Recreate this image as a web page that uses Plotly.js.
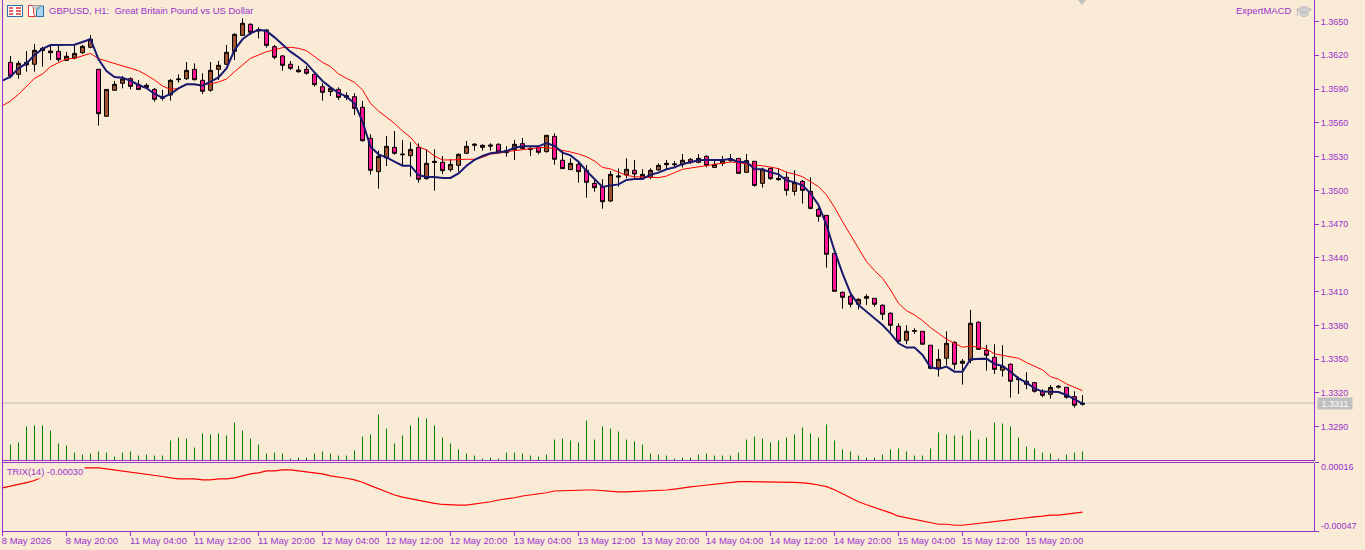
<!DOCTYPE html>
<html><head><meta charset="utf-8">
<script src="https://cdn.plot.ly/plotly-3.0.1.min.js"></script>
<style>html,body{margin:0;padding:0;background:#FAEBD7}</style></head>
<body><div id="chart" style="width:1365px;height:550px"></div>
<script>
const opens=[1.36137,1.36031,1.36114,1.36120,1.36241,1.36238,1.36235,1.36155,1.36176,1.36223,1.36271,1.36075,1.35658,1.35889,1.35951,1.35992,1.35939,1.35933,1.35897,1.35832,1.35847,1.35983,1.35992,1.36075,1.35977,1.35889,1.36075,1.36120,1.36235,1.36377,1.36475,1.36416,1.36425,1.36276,1.36194,1.36120,1.36069,1.36075,1.36031,1.35921,1.35877,1.35897,1.35841,1.35832,1.35738,1.35462,1.35166,1.35288,1.35382,1.35323,1.35308,1.35382,1.35104,1.35258,1.35249,1.35184,1.35222,1.35329,1.35400,1.35400,1.35403,1.35409,1.35335,1.35364,1.35415,1.35373,1.35382,1.35344,1.35480,1.35267,1.35184,1.35231,1.35178,1.35062,1.35033,1.34905,1.35118,1.35136,1.35178,1.35104,1.35116,1.35181,1.35228,1.35228,1.35231,1.35275,1.35249,1.35302,1.35204,1.35240,1.35267,1.35284,1.35160,1.35258,1.35062,1.35195,1.35107,1.35116,1.34991,1.35080,1.34991,1.34831,1.34778,1.34440,1.34094,1.34059,1.33988,1.34041,1.34041,1.33979,1.33908,1.33792,1.33668,1.33748,1.33748,1.33624,1.33422,1.33508,1.33650,1.33464,1.33490,1.33828,1.33579,1.33517,1.33402,1.33455,1.33328,1.33304,1.33292,1.33215,1.33188,1.33251,1.33251,1.33168,1.33099];
const highs=[1.36194,1.36149,1.36238,1.36300,1.36276,1.36291,1.36291,1.36229,1.36291,1.36291,1.36380,1.36075,1.35897,1.35971,1.36016,1.36004,1.35980,1.35951,1.35909,1.35892,1.35989,1.36031,1.36140,1.36128,1.36040,1.36140,1.36149,1.36291,1.36395,1.36528,1.36484,1.36448,1.36430,1.36291,1.36202,1.36149,1.36105,1.36105,1.36040,1.35951,1.35915,1.35915,1.35871,1.35862,1.35794,1.35498,1.35353,1.35483,1.35527,1.35447,1.35427,1.35418,1.35364,1.35364,1.35305,1.35276,1.35329,1.35438,1.35418,1.35409,1.35418,1.35418,1.35394,1.35447,1.35465,1.35388,1.35394,1.35492,1.35507,1.35358,1.35284,1.35255,1.35225,1.35107,1.35098,1.35172,1.35195,1.35284,1.35270,1.35187,1.35195,1.35240,1.35270,1.35261,1.35323,1.35287,1.35323,1.35311,1.35270,1.35305,1.35323,1.35284,1.35323,1.35258,1.35201,1.35204,1.35195,1.35166,1.35178,1.35092,1.35116,1.34849,1.34778,1.34440,1.34103,1.34077,1.34041,1.34077,1.34041,1.33988,1.33917,1.33819,1.33801,1.33775,1.33748,1.33624,1.33588,1.33748,1.33659,1.33502,1.33938,1.33837,1.33627,1.33633,1.33624,1.33464,1.33345,1.33384,1.33298,1.33233,1.33271,1.33271,1.33251,1.33215,1.33182];
const lows=[1.35995,1.35992,1.36054,1.36054,1.36099,1.36158,1.36143,1.36149,1.36164,1.36211,1.36262,1.35575,1.35655,1.35886,1.35906,1.35897,1.35892,1.35906,1.35788,1.35797,1.35797,1.35957,1.35980,1.35977,1.35856,1.35877,1.35980,1.36114,1.36158,1.36371,1.36380,1.36350,1.36268,1.36164,1.36063,1.36069,1.36045,1.36028,1.35921,1.35797,1.35838,1.35803,1.35803,1.35669,1.35433,1.35139,1.35015,1.35216,1.35317,1.35216,1.35122,1.35068,1.35095,1.34997,1.35145,1.35166,1.35166,1.35323,1.35353,1.35353,1.35353,1.35335,1.35299,1.35270,1.35364,1.35305,1.35320,1.35335,1.35228,1.35193,1.35181,1.35068,1.34935,1.34988,1.34837,1.34899,1.35033,1.35107,1.35107,1.35098,1.35098,1.35175,1.35187,1.35195,1.35204,1.35234,1.35240,1.35204,1.35201,1.35216,1.35252,1.35148,1.35157,1.35033,1.35024,1.35092,1.35086,1.34953,1.34953,1.34882,1.34831,1.34722,1.34313,1.34100,1.33949,1.33961,1.33943,1.33982,1.33967,1.33849,1.33745,1.33641,1.33633,1.33724,1.33630,1.33410,1.33345,1.33446,1.33410,1.33274,1.33464,1.33582,1.33399,1.33369,1.33345,1.33159,1.33191,1.33233,1.33203,1.33162,1.33150,1.33239,1.33150,1.33070,1.33088];
const closes=[1.36016,1.36128,1.36137,1.36244,1.36262,1.36223,1.36161,1.36191,1.36217,1.36279,1.36342,1.35681,1.35897,1.35942,1.35989,1.35924,1.35897,1.35915,1.35809,1.35818,1.35977,1.35989,1.36066,1.35983,1.35880,1.36066,1.36111,1.36226,1.36386,1.36484,1.36404,1.36425,1.36288,1.36182,1.36111,1.36084,1.36054,1.36040,1.35939,1.35871,1.35906,1.35826,1.35826,1.35729,1.35441,1.35178,1.35302,1.35391,1.35329,1.35317,1.35364,1.35098,1.35240,1.35249,1.35175,1.35231,1.35320,1.35391,1.35409,1.35382,1.35394,1.35341,1.35353,1.35409,1.35373,1.35364,1.35338,1.35489,1.35276,1.35193,1.35240,1.35166,1.35071,1.35024,1.34899,1.35142,1.35127,1.35187,1.35145,1.35142,1.35178,1.35222,1.35240,1.35234,1.35267,1.35249,1.35284,1.35222,1.35231,1.35264,1.35281,1.35151,1.35264,1.35044,1.35187,1.35104,1.35095,1.35000,1.35071,1.35000,1.34840,1.34769,1.34432,1.34103,1.34050,1.33988,1.34032,1.34056,1.33988,1.33899,1.33801,1.33659,1.33748,1.33754,1.33633,1.33419,1.33499,1.33641,1.33455,1.33482,1.33819,1.33588,1.33535,1.33410,1.33437,1.33304,1.33319,1.33277,1.33215,1.33179,1.33248,1.33259,1.33162,1.33091,1.33108];
const fastMA=[1.35974,1.36010,1.36084,1.36128,1.36202,1.36256,1.36291,1.36294,1.36294,1.36294,1.36318,1.36345,1.36164,1.36060,1.36007,1.36001,1.35974,1.35936,1.35909,1.35856,1.35823,1.35856,1.35906,1.35942,1.35942,1.35930,1.35966,1.36004,1.36084,1.36247,1.36342,1.36395,1.36427,1.36416,1.36359,1.36291,1.36232,1.36182,1.36128,1.36048,1.35971,1.35915,1.35865,1.35832,1.35773,1.35610,1.35388,1.35320,1.35293,1.35255,1.35219,1.35219,1.35136,1.35119,1.35119,1.35110,1.35110,1.35151,1.35219,1.35270,1.35305,1.35329,1.35341,1.35347,1.35379,1.35391,1.35391,1.35391,1.35421,1.35394,1.35335,1.35311,1.35255,1.35172,1.35101,1.35030,1.35044,1.35053,1.35092,1.35101,1.35101,1.35139,1.35157,1.35187,1.35204,1.35234,1.35249,1.35267,1.35270,1.35270,1.35270,1.35278,1.35252,1.35252,1.35190,1.35187,1.35160,1.35142,1.35089,1.35071,1.35044,1.34973,1.34870,1.34692,1.34464,1.34263,1.34085,1.33982,1.33922,1.33869,1.33804,1.33730,1.33641,1.33603,1.33603,1.33538,1.33428,1.33413,1.33434,1.33389,1.33389,1.33499,1.33505,1.33505,1.33458,1.33440,1.33389,1.33330,1.33292,1.33241,1.33212,1.33212,1.33209,1.33182,1.33144,1.33105];
const slowMA=[1.35752,1.35794,1.35853,1.35921,1.35995,1.36034,1.36099,1.36134,1.36167,1.36173,1.36194,1.36217,1.36170,1.36149,1.36128,1.36105,1.36084,1.36063,1.36025,1.35980,1.35927,1.35897,1.35906,1.35942,1.35939,1.35939,1.35945,1.35963,1.35989,1.36054,1.36114,1.36173,1.36202,1.36232,1.36247,1.36268,1.36271,1.36262,1.36241,1.36188,1.36137,1.36099,1.36034,1.35995,1.35960,1.35892,1.35773,1.35705,1.35649,1.35595,1.35527,1.35471,1.35388,1.35359,1.35305,1.35270,1.35270,1.35276,1.35276,1.35276,1.35293,1.35323,1.35329,1.35344,1.35353,1.35359,1.35373,1.35379,1.35382,1.35370,1.35358,1.35341,1.35323,1.35299,1.35261,1.35204,1.35190,1.35160,1.35133,1.35121,1.35116,1.35116,1.35113,1.35127,1.35157,1.35187,1.35198,1.35210,1.35216,1.35228,1.35243,1.35252,1.35246,1.35234,1.35222,1.35219,1.35204,1.35193,1.35160,1.35145,1.35121,1.35077,1.35033,1.34959,1.34849,1.34722,1.34604,1.34485,1.34367,1.34287,1.34219,1.34115,1.33997,1.33931,1.33893,1.33843,1.33781,1.33730,1.33677,1.33641,1.33606,1.33618,1.33606,1.33591,1.33547,1.33532,1.33517,1.33508,1.33470,1.33434,1.33405,1.33345,1.33322,1.33280,1.33251,1.33221];
const volumes=[48,54,102,105,105,90,51,45,24,18,21,27,24,12,24,27,15,18,15,15,60,69,66,39,81,78,81,75,114,90,66,48,21,24,21,6,9,9,21,27,21,15,15,30,72,78,138,96,51,75,105,129,126,105,69,51,33,21,15,6,9,6,24,24,21,15,12,18,63,66,60,54,120,63,102,96,87,63,57,48,21,18,15,6,9,9,18,21,15,15,15,24,63,72,66,54,60,69,78,99,81,69,108,60,33,27,15,9,9,18,33,36,27,15,15,36,84,78,75,75,90,63,69,114,111,102,69,42,36,24,21,6,18,24,27];
const trix=[-0.000074,-0.000059,-0.000037,-0.000025,-0.000006,0.000028,0.000049,0.000071,0.000089,0.000102,0.000111,0.000111,0.000111,0.000102,0.000092,0.000083,0.000074,0.000065,0.000055,0.000043,0.000031,0.000018,0.000009,0.000009,0.000009,0,0,0.000009,0.000009,0.000018,0.000037,0.000055,0.000065,0.000083,0.000083,0.000092,0.000092,0.000083,0.000074,0.000065,0.000055,0.000037,0.000028,0.000015,0,-0.000022,-0.000053,-0.000084,-0.000111,-0.000139,-0.000158,-0.000173,-0.000192,-0.000207,-0.000216,-0.000226,-0.000232,-0.000232,-0.000232,-0.000223,-0.000210,-0.000201,-0.000185,-0.000176,-0.000164,-0.000148,-0.000139,-0.000130,-0.000118,-0.000102,-0.000099,-0.000093,-0.000093,-0.000093,-0.000093,-0.000099,-0.000108,-0.000111,-0.000111,-0.000108,-0.000102,-0.000102,-0.000093,-0.000093,-0.000084,-0.000071,-0.000065,-0.000056,-0.000047,-0.000037,-0.000028,-0.000025,-0.000016,-0.000016,-0.000016,-0.000016,-0.000016,-0.000016,-0.000016,-0.000022,-0.000028,-0.000034,-0.000047,-0.000062,-0.000090,-0.000127,-0.000164,-0.000201,-0.000229,-0.000253,-0.000281,-0.000303,-0.000334,-0.000349,-0.000365,-0.000380,-0.000395,-0.000408,-0.000408,-0.000417,-0.000417,-0.000408,-0.000399,-0.000389,-0.000380,-0.000371,-0.000361,-0.000352,-0.000346,-0.000340,-0.000334,-0.000324,-0.000324,-0.000315,-0.000306,-0.000297];
const tickIndex=[-1,7,15,23,31,39,47,55,63,71,79,87,95,103,111,119,127];
const tickLabels=['8 May 2026\u00a0\u00a0\u00a0','8 May 20:00\u00a0\u00a0','11 May 04:00','11 May 12:00','11 May 20:00','12 May 04:00','12 May 12:00','12 May 20:00','13 May 04:00','13 May 12:00','13 May 20:00','14 May 04:00','14 May 12:00','14 May 20:00','15 May 04:00','15 May 12:00','15 May 20:00'];
const priceTicks=[1.3650,1.3620,1.3590,1.3560,1.3530,1.3500,1.3470,1.3440,1.3410,1.3380,1.3350,1.3320,1.3290];
const lastPrice=1.3311;

const bg='#FAEBD7',purple='#9932CC',font="'Liberation Sans',Arial,sans-serif";
const barIdx=opens.map((_,i)=>i), lineIdx=fastMA.map((_,i)=>i-1);

const icon1="data:image/svg+xml;utf8,"+encodeURIComponent('<svg xmlns="http://www.w3.org/2000/svg" width="16" height="12"><rect x="0.5" y="0.5" width="15" height="11" fill="#fff" stroke="#2a6fb0"/><path d="M2 3h4M2 6h4M2 9h4M9 3h5M9 6h5M9 9h5" stroke="#e03030" stroke-width="1.4"/></svg>');
const icon2="data:image/svg+xml;utf8,"+encodeURIComponent('<svg xmlns="http://www.w3.org/2000/svg" width="16" height="12"><path d="M0.5 0.5h5v8l2 3h-7z" fill="#fff" stroke="#e03030"/><path d="M8.5 5l3-4h4v10.500h-7z" fill="#a8d4f0" stroke="#2a6fb0"/><rect x="5" y="0.500" width="6" height="2.500" fill="#ddd" stroke="#999"/></svg>');
const cap="data:image/svg+xml;utf8,"+encodeURIComponent('<svg xmlns="http://www.w3.org/2000/svg" width="16" height="13"><path d="M0.500 4.500L8 1l7.500 3.500L8 8z" fill="#d0d0d0" stroke="#bcbcbc"/><path d="M4 7v3c2 2 6 2 8 0V7l-4 2z" fill="#d8d8d8" stroke="#c0c0c0"/><path d="M1.500 5v6" stroke="#bcbcbc"/></svg>');

const data=[
 {type:'bar',x:barIdx,y:volumes,yaxis:'y3',xaxis:'x',width:0.12,marker:{color:'#008000',line:{width:0}},hoverinfo:'skip',showlegend:false},
 {type:'candlestick',x:barIdx,open:opens,high:highs,low:lows,close:closes,xaxis:'x',yaxis:'y',
  increasing:{line:{color:'#000000',width:1},fillcolor:'#A0522D'},
  decreasing:{line:{color:'#000000',width:1},fillcolor:'#FF1493'},whiskerwidth:0,hoverinfo:'skip',showlegend:false},
 {type:'scatter',mode:'lines',x:lineIdx,y:slowMA,xaxis:'x',yaxis:'y',line:{color:'#FF0000',width:1},hoverinfo:'skip',showlegend:false},
 {type:'scatter',mode:'lines',x:lineIdx,y:fastMA,xaxis:'x',yaxis:'y',line:{color:'#191970',width:2},hoverinfo:'skip',showlegend:false},
 {type:'scatter',mode:'lines',x:lineIdx,y:trix,xaxis:'x',yaxis:'y2',line:{color:'#FF0000',width:1.2},hoverinfo:'skip',showlegend:false}
];

const pxX=x=>(x-2)/1312, pxY=y=>1-y/531;
const layout={
 width:1365,height:550,paper_bgcolor:bg,plot_bgcolor:bg,showlegend:false,dragmode:false,boxgap:0.5,boxgroupgap:0,
 margin:{l:2,r:51,t:0,b:19,pad:0},font:{family:font,size:10,color:purple},
 xaxis:{type:'linear',range:[-1.0625,162.9375],anchor:'y2',domain:[0,1],tickmode:'array',tickvals:tickIndex,ticktext:tickLabels,
  ticks:'outside',ticklen:4,tickwidth:1,tickcolor:purple,ticklabelshift:28,ticklabelstandoff:-3,ticklabeloverflow:'allow',
  tickfont:{family:font,size:9.5,color:purple},showgrid:false,zeroline:false,showline:true,linecolor:purple,linewidth:1,
  rangeslider:{visible:false},fixedrange:true},
 yaxis:{domain:[pxY(460.5),1],range:[1.32600,1.36691],side:'right',anchor:'x',tickmode:'array',tickvals:priceTicks,
  ticktext:priceTicks.map(v=>v.toFixed(4)),ticks:'outside',ticklen:4,tickwidth:1,tickcolor:purple,
  tickfont:{family:font,size:9,color:purple},showgrid:false,zeroline:false,showline:true,linecolor:purple,linewidth:1,fixedrange:true},
 yaxis2:{domain:[0,pxY(462.5)],range:[-0.00047,0.00016],side:'right',anchor:'x',tickmode:'array',tickvals:[-0.00047,0.00016],
  ticktext:['',''],ticks:'outside',ticklen:4,tickwidth:1,tickcolor:purple,showgrid:false,zeroline:false,showline:true,linecolor:purple,linewidth:1,fixedrange:true},
 yaxis3:{domain:[pxY(460.5),1],range:[0,1381],overlaying:'y',anchor:'x',visible:false,fixedrange:true},
 shapes:[
  {type:'line',xref:'paper',yref:'paper',x0:pxX(2.5),x1:pxX(2.5),y0:0,y1:1,line:{color:purple,width:1}},
  {type:'line',xref:'paper',yref:'paper',x0:0,x1:1,y0:pxY(460.5),y1:pxY(460.5),line:{color:purple,width:1}},
  {type:'line',xref:'paper',yref:'paper',x0:0,x1:1,y0:pxY(462.5),y1:pxY(462.5),line:{color:purple,width:1}},
  {type:'line',xref:'paper',yref:'y',x0:0,x1:1,y0:lastPrice,y1:lastPrice,line:{color:'#C0C0C0',width:1},layer:'below'},
  {type:'path',xref:'paper',yref:'paper',path:`M${pxX(1078)},1 L${pxX(1086)},1 L${pxX(1082)},${pxY(5)} Z`,fillcolor:'#C0C0C0',line:{width:0}}
 ],
 images:[
  {source:icon1,xref:'paper',yref:'paper',x:pxX(7),y:pxY(5),sizex:16/1312,sizey:12/531,xanchor:'left',yanchor:'top',sizing:'stretch'},
  {source:icon2,xref:'paper',yref:'paper',x:pxX(28),y:pxY(5),sizex:16/1312,sizey:12/531,xanchor:'left',yanchor:'top',sizing:'stretch'},
  {source:cap,xref:'paper',yref:'paper',x:pxX(1296),y:pxY(5),sizex:16/1312,sizey:13/531,xanchor:'left',yanchor:'top',sizing:'stretch'}
 ],
 annotations:[
  {text:'GBPUSD, H1:\u00a0\u00a0Great Britain Pound vs US Dollar',xref:'paper',yref:'paper',x:pxX(47.5),y:pxY(10.5),xanchor:'left',yanchor:'middle',showarrow:false,font:{family:font,size:9.5,color:purple},borderpad:0},
  {text:'ExpertMACD',xref:'paper',yref:'paper',x:pxX(1292.5),y:pxY(10.5),xanchor:'right',yanchor:'middle',showarrow:false,font:{family:font,size:9.5,color:purple},borderpad:0},
  {text:'TRIX(14) -0.00030',xref:'paper',yref:'paper',x:pxX(4.5),y:pxY(471.5),xanchor:'left',yanchor:'middle',showarrow:false,font:{family:font,size:9.2,color:purple},bgcolor:bg,borderpad:1},
  {text:'1.3311',xref:'paper',yref:'y',x:pxX(1317),y:lastPrice,xanchor:'left',yanchor:'middle',showarrow:false,font:{family:font,size:9,color:'#FFFFFF'},bgcolor:'#C0C0C0',borderpad:0,width:34,height:11},
  {text:'0.00016',xref:'paper',yref:'paper',x:pxX(1320),y:pxY(467),xanchor:'left',yanchor:'middle',showarrow:false,font:{family:font,size:9,color:purple},borderpad:0},
  {text:'-0.00047',xref:'paper',yref:'paper',x:pxX(1320),y:pxY(525.5),xanchor:'left',yanchor:'middle',showarrow:false,font:{family:font,size:9,color:purple},borderpad:0}
 ]
};
Plotly.newPlot('chart',data,layout,{displayModeBar:false});
</script></body></html>
